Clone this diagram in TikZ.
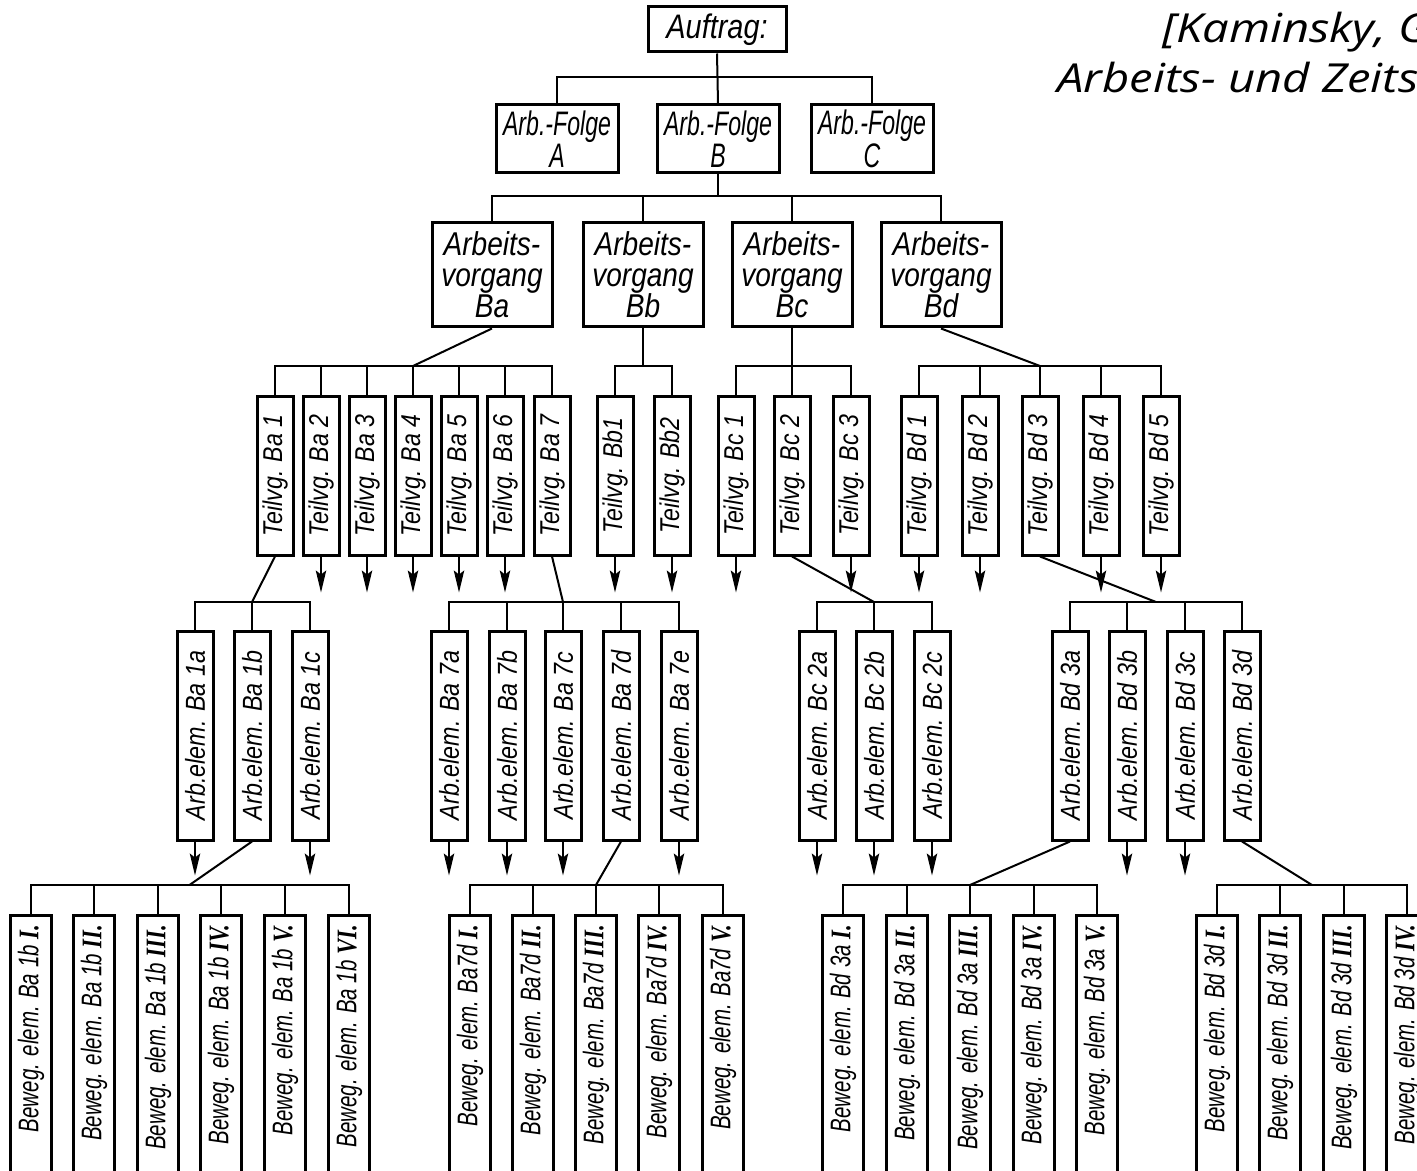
\documentclass[tikz,border=0pt]{standalone}
\usepackage{fontspec}
\usetikzlibrary{arrows.meta,calc}
\newfontfamily\dinf[FakeStretch=0.85]{Liberation Sans}
\newfontfamily\dinl[FakeStretch=0.72]{Liberation Sans}
\newfontfamily\dinn[FakeStretch=0.68]{Liberation Sans}
\newfontfamily\romf[FakeStretch=0.8]{Liberation Serif}
\newfontfamily\citef[FakeStretch=1.18]{Open Sans}
\newcommand\rnum[1]{{\romf\bfseries\itshape #1}}
\begin{document}
\begin{tikzpicture}[x=0.5pt,y=-0.5pt,
  box/.style={draw, line width=1.5pt, inner sep=0pt, fill=white},
  conn/.style={line width=1pt},
  arr/.style={line width=0.8pt,-{Stealth[length=11pt,width=5.2pt,inset=2pt]}},
  topbox/.style={box, minimum width=69pt, minimum height=22.5pt, font=\dinf\itshape\fontsize{17}{17}\selectfont},
  folgebox/.style={box, align=center, minimum width=61pt, minimum height=34pt, font=\dinn\itshape\fontsize{17}{12.5}\selectfont},
  vorgbox/.style={box, align=center, minimum width=60pt, minimum height=52pt, font=\dinf\itshape\fontsize{16.5}{15.5}\selectfont},
  tvbox/.style={box, minimum width=18pt, minimum height=79.5pt, font=\dinf\itshape\fontsize{13.6}{14}\selectfont},
  aebox/.style={box, minimum width=18pt, minimum height=104.5pt, font=\dinf\itshape\fontsize{13.7}{14}\selectfont},
  bebox/.style={box, minimum width=20.5pt, minimum height=142.5pt, inner ysep=5pt, font=\dinl\itshape\fontsize{14.2}{15}\selectfont},
  cite/.style={anchor=base west, inner sep=0pt, font=\citef\itshape\fontsize{20}{25}\selectfont}
]
\fill[white] (0,0) rectangle (1417,1171);
\useasboundingbox (0,0) rectangle (1417,1171);

\coordinate (y1) at (0,77);
\coordinate (y2) at (0,196);
\coordinate (y3) at (0,366);
\coordinate (y4) at (0,602);
\coordinate (y5) at (0,885);

% citation
\node[cite] (cit1) at (1162,43) {[Kaminsky, G};
\node[cite] (cit2) at (1057,93) {Arbeits- und Zeits};

% level 0/1
\node[topbox] (auf) at (717,29.5) {Auftrag:};
\node[folgebox] (fA) at (557,139) {Arb.-Folge\\A};
\node[folgebox] (fB) at (718,139) {Arb.-Folge\\B};
\node[folgebox] (fC) at (872,139) {Arb.-Folge\\C};

% level 2
\node[vorgbox] (Ba) at (492,275) {Arbeits-\\vorgang\\Ba};
\node[vorgbox] (Bb) at (643,275) {Arbeits-\\vorgang\\Bb};
\node[vorgbox] (Bc) at (792,275) {Arbeits-\\vorgang\\Bc};
\node[vorgbox] (Bd) at (941,275) {Arbeits-\\vorgang\\Bd};

% level 3
\foreach \n/\x/\t in {Ba1/275/Ba 1,Ba2/321/Ba 2,Ba3/367/Ba 3,Ba4/413/Ba 4,Ba5/459/Ba 5,Ba6/505/Ba 6,Ba7/552/Ba 7,Bb1/615/Bb1,Bb2/672/Bb2,Bc1/736/Bc 1,Bc2/792/Bc 2,Bc3/851/Bc 3,Bd1/919/Bd 1,Bd2/980/Bd 2,Bd3/1040/Bd 3,Bd4/1101/Bd 4,Bd5/1161/Bd 5}
  \node[tvbox] (\n) at (\x,475.5) {\rotatebox{90}{Teilvg. \t}};

% level 4
\foreach \n/\x/\t in {Ba1a/195/Ba 1a,Ba1b/252/Ba 1b,Ba1c/310/Ba 1c,Ba7a/449/Ba 7a,Ba7b/507/Ba 7b,Ba7c/563/Ba 7c,Ba7d/621/Ba 7d,Ba7e/679/Ba 7e,Bc2a/817/Bc 2a,Bc2b/874/Bc 2b,Bc2c/932/Bc 2c,Bd3a/1070/Bd 3a,Bd3b/1127/Bd 3b,Bd3c/1185/Bd 3c,Bd3d/1242/Bd 3d}
  \node[aebox] (\n) at (\x,735.5) {\rotatebox{90}{Arb.elem. \t}};

% level 5
\foreach \n/\x/\t/\r in {Ba1bI/31/Ba 1b/I.,Ba1bII/94/Ba 1b/II.,Ba1bIII/158/Ba 1b/III.,Ba1bIV/221/Ba 1b/IV.,Ba1bV/285/Ba 1b/V.,Ba1bVI/349/Ba 1b/VI.,
  Ba7dI/470/Ba7d/I.,Ba7dII/533/Ba7d/II.,Ba7dIII/596/Ba7d/III.,Ba7dIV/659/Ba7d/IV.,Ba7dV/723/Ba7d/V.,
  Bd3aI/843/Bd 3a/I.,Bd3aII/907/Bd 3a/II.,Bd3aIII/970/Bd 3a/III.,Bd3aIV/1034/Bd 3a/IV.,Bd3aV/1097/Bd 3a/V.,
  Bd3dI/1217/Bd 3d/I.,Bd3dII/1280/Bd 3d/II.,Bd3dIII/1344/Bd 3d/III.,Bd3dIV/1407/Bd 3d/IV.}
  \node[bebox] (\n) at (\x,1057.5) {\rotatebox{90}{\makebox[132.5pt][r]{Beweg. elem. \t\ \rnum{\r}}}};

% connectors level 0-1
\draw[conn] (auf.south) -- (fB.north);
\draw[conn] (fA.north) -- (fA.north |- y1) -- (fC.north |- y1) -- (fC.north);

% level 1-2
\draw[conn] (fB.south) -- (fB.south |- y2);
\draw[conn] (Ba.north) -- (Ba.north |- y2) -- (Bd.north |- y2) -- (Bd.north);
\draw[conn] (Bb.north) -- (Bb.north |- y2);
\draw[conn] (Bc.north) -- (Bc.north |- y2);

% level 2-3
\draw[conn] (Ba.south) -- (Ba4.north |- y3);
\draw[conn] (Ba1.north) -- (Ba1.north |- y3) -- (Ba7.north |- y3) -- (Ba7.north);
\foreach \n in {Ba2,Ba3,Ba4,Ba5,Ba6} \draw[conn] (\n.north) -- (\n.north |- y3);
\draw[conn] (Bb.south) -- (Bb.south |- y3);
\draw[conn] (Bb1.north) -- (Bb1.north |- y3) -- (Bb2.north |- y3) -- (Bb2.north);
\draw[conn] (Bc.south) -- (Bc2.north);
\draw[conn] (Bc1.north) -- (Bc1.north |- y3) -- (Bc3.north |- y3) -- (Bc3.north);
\draw[conn] (Bd.south) -- (Bd3.north |- y3);
\draw[conn] (Bd1.north) -- (Bd1.north |- y3) -- (Bd5.north |- y3) -- (Bd5.north);
\foreach \n in {Bd2,Bd3,Bd4} \draw[conn] (\n.north) -- (\n.north |- y3);

\foreach \n in {Ba2,Ba3,Ba4,Ba5,Ba6,Bb1,Bb2,Bc1,Bc3,Bd1,Bd2,Bd4,Bd5}
  \draw[arr] (\n.south) -- ++(0,36);

% level 3-4
\draw[conn] (Ba1.south) -- (Ba1b.north |- y4);
\draw[conn] (Ba1a.north) -- (Ba1a.north |- y4) -- (Ba1c.north |- y4) -- (Ba1c.north);
\draw[conn] (Ba1b.north) -- (Ba1b.north |- y4);
\draw[conn] (Ba7.south) -- (Ba7c.north |- y4);
\draw[conn] (Ba7a.north) -- (Ba7a.north |- y4) -- (Ba7e.north |- y4) -- (Ba7e.north);
\foreach \n in {Ba7b,Ba7c,Ba7d} \draw[conn] (\n.north) -- (\n.north |- y4);
\draw[conn] (Bc2.south) -- (Bc2b.north |- y4);
\draw[conn] (Bc2a.north) -- (Bc2a.north |- y4) -- (Bc2c.north |- y4) -- (Bc2c.north);
\draw[conn] (Bc2b.north) -- (Bc2b.north |- y4);
\draw[conn] (Bd3.south) -- ($(Bd3b.north |- y4)!0.5!(Bd3c.north |- y4)$);
\draw[conn] (Bd3a.north) -- (Bd3a.north |- y4) -- (Bd3d.north |- y4) -- (Bd3d.north);
\foreach \n in {Bd3b,Bd3c} \draw[conn] (\n.north) -- (\n.north |- y4);

\foreach \n in {Ba1a,Ba1c,Ba7a,Ba7b,Ba7c,Ba7e,Bc2a,Bc2b,Bc2c,Bd3b,Bd3c}
  \draw[arr] (\n.south) -- ++(0,34);

% level 4-5
\draw[conn] (Ba1b.south) -- ($(Ba1bIII.north |- y5)!0.5!(Ba1bIV.north |- y5)$);
\draw[conn] (Ba1bI.north) -- (Ba1bI.north |- y5) -- (Ba1bVI.north |- y5) -- (Ba1bVI.north);
\foreach \n in {Ba1bII,Ba1bIII,Ba1bIV,Ba1bV} \draw[conn] (\n.north) -- (\n.north |- y5);
\draw[conn] (Ba7d.south) -- (Ba7dIII.north |- y5);
\draw[conn] (Ba7dI.north) -- (Ba7dI.north |- y5) -- (Ba7dV.north |- y5) -- (Ba7dV.north);
\foreach \n in {Ba7dII,Ba7dIII,Ba7dIV} \draw[conn] (\n.north) -- (\n.north |- y5);
\draw[conn] (Bd3a.south) -- (Bd3aIII.north |- y5);
\draw[conn] (Bd3aI.north) -- (Bd3aI.north |- y5) -- (Bd3aV.north |- y5) -- (Bd3aV.north);
\foreach \n in {Bd3aII,Bd3aIII,Bd3aIV} \draw[conn] (\n.north) -- (\n.north |- y5);
\draw[conn] (Bd3d.south) -- ($(Bd3dII.north |- y5)!0.5!(Bd3dIII.north |- y5)$);
\draw[conn] (Bd3dI.north) -- (Bd3dI.north |- y5) -- (Bd3dIV.north |- y5) -- (Bd3dIV.north);
\foreach \n in {Bd3dII,Bd3dIII} \draw[conn] (\n.north) -- (\n.north |- y5);
\end{tikzpicture}
\end{document}
